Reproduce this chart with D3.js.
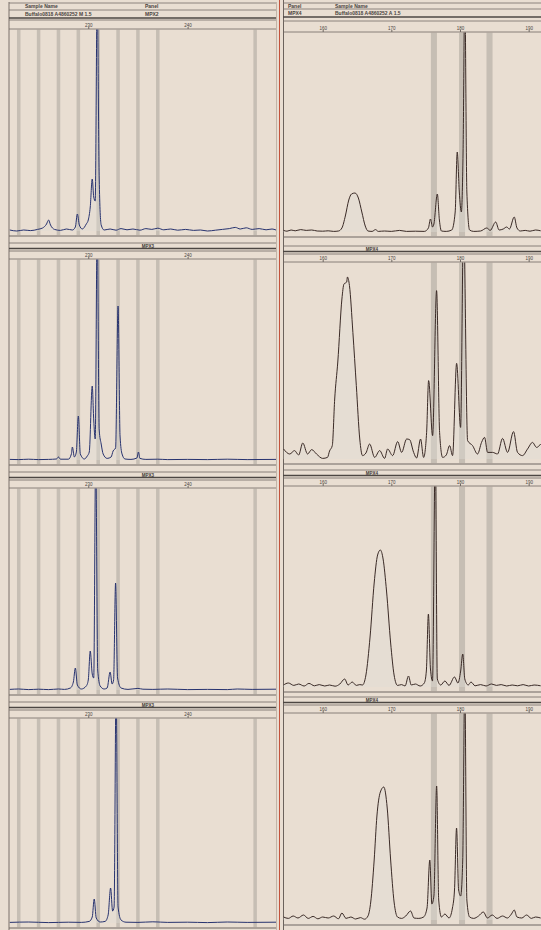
<!DOCTYPE html>
<html>
<head>
<meta charset="utf-8">
<script src="https://cdn.jsdelivr.net/npm/d3@7"></script>
<style>
  html, body { margin: 0; padding: 0; background: #e9ded2; }
  svg { display: block; font-family: "Liberation Sans", Arial, sans-serif; }
</style>
</head>
<body>
<script>
// Electropherogram printout: MPX3 lanes (left, blue) and MPX4 lanes (right, dark)
var leftTicks = [230, 240];
var rightTicks = [160, 170, 180, 190];
var leftBins = [223, 225, 227, 229, 231, 233, 235, 237, 246.8];
var rightBins = [176.2, 180.3, 184.3];

// traces: [size in bp, signal]
var mpx3Lane1 = [[222.1,5],[222.8,0],[223.5,5],[224.2,2],[224.9,8],[225.4,15],[225.8,35],[226.0,55],[226.2,30],[226.6,8],[227.2,3],[227.8,10],[228.4,5],[228.7,20],[228.9,85],[229.1,30],[229.4,10],[229.8,35],[230.0,55],[230.2,120],[230.4,260],[230.55,170],[230.7,150],[230.9,1200],[231.1,260],[231.3,30],[231.6,5],[232.2,10],[232.8,4],[233.3,12],[233.9,6],[234.5,10],[235.2,4],[235.8,12],[236.4,8],[237,14],[237.6,6],[238.3,10],[239,4],[239.8,8],[240.6,3],[241.3,5],[242,0],[242.8,4],[243.5,8],[244.2,12],[244.8,18],[245.3,10],[245.9,16],[246.5,8],[247.2,12],[247.9,6],[248.5,10],[248.9,5]];
var mpx3Lane2 = [[222.1,3],[223,2],[224,4],[225,2],[226,3],[226.8,5],[227.0,15],[227.2,4],[228,4],[228.3,30],[228.4,65],[228.6,15],[228.8,40],[229.0,220],[229.2,30],[229.6,5],[229.9,20],[230.1,40],[230.4,370],[230.55,200],[230.7,105],[230.9,1200],[231.1,150],[231.3,80],[231.5,30],[231.9,8],[232.3,15],[232.5,45],[232.75,60],[233.0,770],[233.2,120],[233.4,30],[233.7,5],[234.3,3],[234.9,10],[235.05,40],[235.2,8],[235.8,3],[237,4],[238,2],[240,3],[242,2],[244,4],[246,2],[248.9,3]];
var mpx3Lane3 = [[222.1,3],[223,5],[224,2],[225,4],[226,2],[227,5],[227.6,3],[228.2,10],[228.5,40],[228.7,110],[228.9,25],[229.3,5],[229.8,20],[230.0,50],[230.2,195],[230.4,80],[230.55,60],[230.75,1200],[230.95,100],[231.2,20],[231.6,5],[231.9,10],[232.2,90],[232.4,30],[232.55,50],[232.75,535],[232.95,60],[233.3,10],[234,3],[235,8],[235.5,4],[236.5,3],[238,5],[240,2],[242,3],[244,2],[245,5],[246.5,3],[248.9,4]];
var mpx3Lane4 = [[222.1,3],[224,5],[226,2],[228,4],[229.3,3],[230.1,8],[230.4,30],[230.6,120],[230.8,25],[231.2,5],[231.7,8],[232.0,40],[232.25,175],[232.45,60],[232.6,80],[232.8,1200],[233.0,80],[233.3,15],[233.8,4],[235,3],[236.5,6],[238,3],[240,4],[242,2],[244,5],[246,3],[248.9,4]];

var mpx4Lane1 = [[154.3,8],[154.8,4],[155.4,10],[156,6],[156.8,12],[157.6,8],[158.4,10],[159.2,5],[160,4],[160.8,6],[161.6,3],[162.3,5],[162.8,20],[163.3,80],[163.8,160],[164.2,190],[164.7,195],[165.2,170],[165.7,100],[166.2,30],[166.6,5],[167.2,3],[167.7,12],[168.1,3],[169,5],[170,3],[171.2,8],[172.2,3],[173.5,4],[174.8,3],[175.4,20],[175.7,65],[176.0,25],[176.2,40],[176.7,190],[177.0,60],[177.3,5],[178,3],[178.8,10],[179.3,100],[179.6,400],[179.9,200],[180.2,100],[180.45,400],[180.7,1200],[181.0,200],[181.4,10],[182,3],[183,5],[183.9,20],[184.4,8],[185.2,50],[185.7,10],[186.3,15],[186.8,25],[187.2,15],[187.9,75],[188.3,20],[188.8,5],[189.5,8],[190.2,4],[191,10],[191.75,6]];
var mpx4Lane2 = [[154.3,50],[155.2,25],[155.9,42],[156.5,20],[157.1,80],[157.8,25],[158.4,47],[159.1,25],[160,3],[160.7,8],[161.0,40],[161.4,67],[161.75,300],[162.2,485],[162.8,800],[163.1,875],[163.5,885],[163.6,910],[163.9,867],[164.4,633],[164.9,367],[165.4,100],[165.8,17],[166.3,30],[166.84,75],[167.57,8],[168.3,42],[169.02,3],[169.46,50],[170.19,17],[170.92,87],[171.5,33],[172.23,100],[172.66,97],[173.25,33],[173.68,5],[174.26,100],[174.7,8],[175.14,133],[175.43,392],[176.01,117],[176.59,842],[177.03,133],[177.47,8],[178.0,20],[178.49,67],[178.92,17],[179.51,478],[180.09,158],[180.52,1200],[181.11,92],[181.83,67],[182.56,25],[183.14,83],[183.58,108],[184.02,33],[184.75,33],[185.47,25],[186.2,103],[186.93,33],[187.8,137],[188.38,33],[189.11,17],[189.84,50],[190.57,83],[191.15,58],[191.75,75]];
var mpx4Lane3 = [[154.3,10],[155,20],[155.8,8],[156.5,15],[157.3,5],[158,18],[158.8,6],[159.5,12],[160.3,5],[161,10],[161.8,4],[162.5,15],[163.2,40],[163.7,10],[164.3,25],[164.9,8],[165.4,12],[165.8,10],[166.3,60],[166.9,250],[167.5,520],[168.0,660],[168.4,685],[168.8,640],[169.3,480],[169.9,220],[170.4,60],[170.9,8],[171.5,12],[172.0,5],[172.5,55],[172.9,10],[173.5,15],[174.2,5],[174.8,20],[175.1,80],[175.4,365],[175.7,90],[176.0,30],[176.4,1200],[176.7,40],[177.2,10],[177.8,30],[178.4,8],[179.2,50],[179.7,20],[180.1,80],[180.4,165],[180.7,40],[181.2,10],[181.6,25],[182.2,6],[183,12],[183.8,5],[184.6,15],[185.3,8],[186,12],[186.8,5],[187.6,10],[188.4,6],[189.2,12],[190,5],[190.8,10],[191.75,6]];
var mpx4Lane4 = [[154.3,15],[155,8],[155.7,20],[156.4,10],[157.2,25],[157.9,8],[158.6,18],[159.3,6],[160,15],[160.8,10],[161.6,20],[162.3,6],[162.8,35],[163.4,8],[164.1,15],[164.8,5],[165.5,12],[166.1,4],[166.6,20],[167.0,90],[167.5,300],[167.9,520],[168.4,640],[168.9,665],[169.4,560],[169.9,300],[170.4,90],[170.9,15],[171.5,8],[172.1,20],[172.8,45],[173.3,10],[174,8],[174.7,15],[175.2,60],[175.6,300],[175.9,80],[176.2,120],[176.6,670],[176.9,100],[177.3,15],[177.8,30],[178.4,10],[178.9,60],[179.2,150],[179.5,460],[179.8,150],[180.1,120],[180.4,300],[180.7,1200],[181.0,100],[181.4,15],[182,8],[182.7,20],[183.4,40],[184,10],[184.7,25],[185.4,8],[186.2,20],[186.9,10],[187.5,30],[187.9,50],[188.3,15],[189,10],[189.7,25],[190.4,8],[191,15],[191.75,10]];

var leftHeader = [["Sample Name", "Panel"], ["Buffalo0818 A4860252  M  1.5", "MPX2"]];
var rightHeader = [["Panel", "Sample Name"], ["MPX4", "Buffalo0818 A4860252  A  1.5"]];

var svg = d3.select("body").append("svg")
    .attr("width", 541)
    .attr("height", 930);

var columns = [
  {
    id: "L", x0: 9, x1: 276, domain: [222.02, 248.9], ticks: leftTicks, bins: leftBins, binW: 3.5,
    color: "#28336f", label: "MPX3", labelX: 148,
    header: leftHeader, headerX: [25, 145], headerLines: [3, 10, 18, 20], headerText: [8, 15.5],
    panels: [
      { axisY: 29, base: 231, trace: mpx3Lane1 },
      { axisY: 259, base: 460, trace: mpx3Lane2 },
      { axisY: 488, base: 690, trace: mpx3Lane3 },
      { axisY: 718, base: 923, trace: mpx3Lane4 }
    ]
  },
  {
    id: "R", x0: 283, x1: 541, domain: [154.22, 191.8], ticks: rightTicks, bins: rightBins, binW: 6,
    color: "#3a2a26", label: "MPX4", labelX: 372,
    header: rightHeader, headerX: [288, 335], headerLines: [3, 9, 17, 21], headerText: [7.5, 14.5],
    panels: [
      { axisY: 32, base: 232, trace: mpx4Lane1 },
      { axisY: 262, base: 459, trace: mpx4Lane2 },
      { axisY: 486, base: 687, trace: mpx4Lane3 },
      { axisY: 713, base: 920, trace: mpx4Lane4 }
    ]
  }
];

// frame lines of the printout
svg.append("line").attr("x1", 9).attr("x2", 9).attr("y1", 2).attr("y2", 930)
    .attr("stroke", "#7a716a").attr("stroke-width", 1);
svg.append("line").attr("x1", 276.5).attr("x2", 276.5).attr("y1", 2).attr("y2", 930)
    .attr("stroke", "#b9aa9c").attr("stroke-width", 0.8);
svg.append("line").attr("x1", 279.5).attr("x2", 279.5).attr("y1", 0).attr("y2", 930)
    .attr("stroke", "#c4533c").attr("stroke-width", 1);
svg.append("line").attr("x1", 283.5).attr("x2", 283.5).attr("y1", 0).attr("y2", 930)
    .attr("stroke", "#6b625c").attr("stroke-width", 1);

columns.forEach(drawColumn);

function hline(g, x0, x1, y, w, col) {
    g.append("line")
        .attr("x1", x0).attr("x2", x1)
        .attr("y1", y).attr("y2", y)
        .attr("stroke", col || "#6e6762")
        .attr("stroke-width", w || 0.8);
}

function drawColumn(col) {
    var g = svg.append("g");
    var x = d3.scaleLinear().domain(col.domain).range([col.x0, col.x1]);

    // header block
    col.headerLines.forEach(function(y, i) {
        hline(g, col.x0, col.x1, y, i === 2 ? 1.4 : 0.8, i === 2 ? "#4d4743" : "#756d67");
    });
    col.header.forEach(function(row, r) {
        row.forEach(function(t, c) {
            g.append("text")
                .attr("x", col.headerX[c])
                .attr("y", col.headerText[r])
                .attr("font-size", 5)
                .attr("font-weight", "bold")
                .attr("fill", "#4a4440")
                .text(t);
        });
    });

    col.panels.forEach(function(p, i) {
        var bottom = p.base + 5;
        var y = d3.scaleLinear().domain([0, 1000]).range([p.base, p.base - 200]);

        // separator with marker name between lanes
        if (i > 0) {
            hline(g, col.x0, col.x1, p.axisY - 16);
            hline(g, col.x0, col.x1, p.axisY - 10.5, 1.4, "#4d4743");
            hline(g, col.x0, col.x1, p.axisY - 8);
            g.append("text")
                .attr("x", col.labelX)
                .attr("y", p.axisY - 11.5)
                .attr("text-anchor", "middle")
                .attr("font-size", 4.5)
                .attr("font-weight", "bold")
                .attr("fill", "#3f3936")
                .text(col.label);
        }

        // size axis
        var axis = g.append("g")
            .attr("transform", "translate(0," + p.axisY + ")")
            .call(d3.axisTop(x).tickValues(col.ticks).tickSize(2).tickPadding(0.5));
        axis.select(".domain").remove();
        axis.selectAll("line").attr("stroke", "#6e6762");
        axis.selectAll("text").attr("font-size", 4.5).attr("fill", "#4a4440")
            .attr("font-family", "Liberation Sans, Arial, sans-serif");
        hline(g, col.x0, col.x1, p.axisY);
        hline(g, col.x0, col.x1, bottom, 1, "#6e6762");

        var clipId = "clip" + col.id + i;
        g.append("clipPath").attr("id", clipId)
            .append("rect")
            .attr("x", col.x0).attr("y", p.axisY + 0.5)
            .attr("width", col.x1 - col.x0).attr("height", bottom - p.axisY - 1);

        var lane = g.append("g").attr("clip-path", "url(#" + clipId + ")");

        // allele bins
        lane.selectAll(".bin")
            .data(col.bins)
            .enter().append("rect")
            .attr("class", "bin")
            .attr("x", function(d) { return x(d) - col.binW / 2; })
            .attr("y", p.axisY)
            .attr("width", col.binW)
            .attr("height", bottom - p.axisY)
            .attr("fill", "#a39d95")
            .attr("opacity", 0.5);

        var area = d3.area()
            .x(function(d) { return x(d[0]); })
            .y0(p.base)
            .y1(function(d) { return y(d[1]); })
            .curve(d3.curveMonotoneX);
        var line = d3.line()
            .x(function(d) { return x(d[0]); })
            .y(function(d) { return y(d[1]); })
            .curve(d3.curveMonotoneX);

        lane.append("path")
            .datum(p.trace)
            .attr("d", area)
            .attr("fill", "#dedbd5")
            .attr("opacity", 0.4);
        lane.append("path")
            .datum(p.trace)
            .attr("d", line)
            .attr("fill", "none")
            .attr("stroke", col.color)
            .attr("stroke-width", 1)
            .attr("stroke-linejoin", "round");
    });
}
</script>
</body>
</html>
